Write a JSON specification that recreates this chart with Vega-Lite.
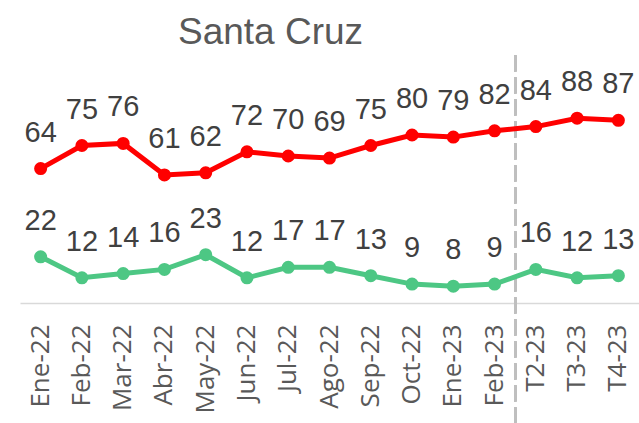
{
  "$schema": "https://vega.github.io/schema/vega-lite/v6.json",
  "autosize": "none",
  "width": 619,
  "height": 252,
  "padding": {"left": 20, "top": 51, "right": 0, "bottom": 120},
  "background": "white",
  "title": {
    "text": "Santa Cruz",
    "font": "Liberation Sans",
    "fontSize": 37,
    "fontWeight": "normal",
    "color": "#595959",
    "anchor": "middle",
    "dx": -59,
    "baseline": "alphabetic",
    "offset": -30
  },
  "config": {"view": {"stroke": null}},
  "data": {
    "values": [
      {"mes": "Ene-22", "serie": "A", "valor": 64},
      {"mes": "Feb-22", "serie": "A", "valor": 75},
      {"mes": "Mar-22", "serie": "A", "valor": 76},
      {"mes": "Abr-22", "serie": "A", "valor": 61},
      {"mes": "May-22", "serie": "A", "valor": 62},
      {"mes": "Jun-22", "serie": "A", "valor": 72},
      {"mes": "Jul-22", "serie": "A", "valor": 70},
      {"mes": "Ago-22", "serie": "A", "valor": 69},
      {"mes": "Sep-22", "serie": "A", "valor": 75},
      {"mes": "Oct-22", "serie": "A", "valor": 80},
      {"mes": "Ene-23", "serie": "A", "valor": 79},
      {"mes": "Feb-23", "serie": "A", "valor": 82},
      {"mes": "T2-23", "serie": "A", "valor": 84},
      {"mes": "T3-23", "serie": "A", "valor": 88},
      {"mes": "T4-23", "serie": "A", "valor": 87},
      {"mes": "Ene-22", "serie": "B", "valor": 22},
      {"mes": "Feb-22", "serie": "B", "valor": 12},
      {"mes": "Mar-22", "serie": "B", "valor": 14},
      {"mes": "Abr-22", "serie": "B", "valor": 16},
      {"mes": "May-22", "serie": "B", "valor": 23},
      {"mes": "Jun-22", "serie": "B", "valor": 12},
      {"mes": "Jul-22", "serie": "B", "valor": 17},
      {"mes": "Ago-22", "serie": "B", "valor": 17},
      {"mes": "Sep-22", "serie": "B", "valor": 13},
      {"mes": "Oct-22", "serie": "B", "valor": 9},
      {"mes": "Ene-23", "serie": "B", "valor": 8},
      {"mes": "Feb-23", "serie": "B", "valor": 9},
      {"mes": "T2-23", "serie": "B", "valor": 16},
      {"mes": "T3-23", "serie": "B", "valor": 12},
      {"mes": "T4-23", "serie": "B", "valor": 13}
    ]
  },
  "encoding": {
    "x": {
      "field": "mes",
      "type": "ordinal",
      "sort": null,
      "scale": {
        "type": "band",
        "paddingInner": 0,
        "paddingOuter": 0,
        "domain": ["Ene-22", "Feb-22", "Mar-22", "Abr-22", "May-22", "Jun-22", "Jul-22", "Ago-22", "Sep-22", "Oct-22", "Ene-23", "Feb-23", "T2-23", "T3-23", "T4-23"]
      },
      "axis": {
        "title": null,
        "labelAngle": -90,
        "labelAlign": "right",
        "labelBaseline": "middle",
        "labelFont": "Open Sans",
        "labelFontSize": 26,
        "labelColor": "#595959",
        "labelPadding": 21,
        "ticks": false,
        "domainColor": "#d9d9d9",
        "domainWidth": 1.5,
        "grid": false
      }
    },
    "y": {
      "field": "valor",
      "type": "quantitative",
      "scale": {"domain": [0, 120], "nice": false, "zero": true},
      "axis": null
    },
    "color": {
      "field": "serie",
      "type": "nominal",
      "scale": {"domain": ["A", "B"], "range": ["#ff0000", "#4dc784"]},
      "legend": null
    }
  },
  "layer": [
    {
      "mark": {"type": "rule", "strokeDash": [16, 6], "color": "#bfbfbf", "strokeWidth": 2, "clip": false},
      "encoding": {
        "x": {"datum": "Feb-23", "bandPosition": 1},
        "y": {"datum": 118},
        "y2": {"datum": -57},
        "color": {"value": "#bfbfbf"}
      }
    },
    {
      "mark": {"type": "line", "strokeWidth": 5},
      "encoding": {"detail": {"field": "serie"}}
    },
    {
      "mark": {"type": "circle", "size": 170, "opacity": 1}
    },
    {
      "mark": {
        "type": "text",
        "dy": -27,
        "baseline": "alphabetic",
        "font": "Liberation Sans",
        "fontSize": 29,
        "color": "#404040"
      },
      "encoding": {
        "text": {"field": "valor", "type": "quantitative"},
        "color": {"value": "#404040"}
      }
    }
  ]
}
